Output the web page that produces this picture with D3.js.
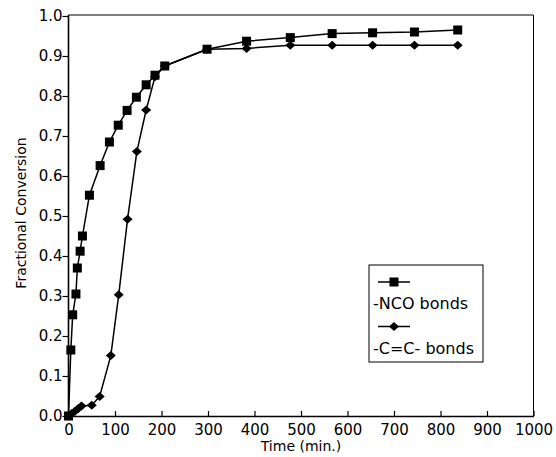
<!DOCTYPE html>
<html>
<head>
<meta charset="utf-8">
<script src="https://cdn.jsdelivr.net/npm/d3@7"></script>
<style>
  body { margin: 0; background: #fff; }
  svg text { font-family: "DejaVu Sans", sans-serif; fill: #000; }
</style>
</head>
<body>
<div class="holder"></div>
<script>
"use strict";

// values
const ncoTime = [0, 5, 9, 16, 19, 25, 30, 45, 68, 88, 107, 126, 146, 167, 186, 207, 298, 383, 477, 567, 654, 744, 837];
const ncoConv = [0, 0.165, 0.253, 0.305, 0.37, 0.412, 0.45, 0.552, 0.626, 0.685, 0.727, 0.764, 0.797, 0.828, 0.852, 0.875, 0.917, 0.937, 0.946, 0.956, 0.958, 0.96, 0.965];
const ccTime = [0, 7, 14, 21, 28, 50, 67, 91, 108, 127, 147, 167, 186, 207, 298, 383, 477, 567, 654, 744, 837];
const ccConv = [0, 0.006, 0.012, 0.019, 0.025, 0.027, 0.049, 0.151, 0.303, 0.492, 0.661, 0.765, 0.848, 0.875, 0.917, 0.919, 0.927, 0.927, 0.927, 0.927, 0.927];
const xTicks = d3.range(0, 1001, 100);
const yTicks = d3.range(0, 11).map((d) => d / 10);
const legendLabels = ["-NCO bonds", "-C=C- bonds"];

const w = 556;
const h = 457;
const svg = d3.select(".holder").append("svg").attr("width", w).attr("height", h);

const x = d3.scaleLinear().domain([0, 1000]).range([68.5, 533.5]);
const y = d3.scaleLinear().domain([0, 1]).range([416, 16]);

// frame (top and right)
svg.append("path")
  .attr("d", `M${x(0)},${y(1) - 1}H${x(1000)}V${y(0)}`)
  .attr("fill", "none").attr("stroke", "#000").attr("stroke-width", 1);

const xAxis = svg.append("g")
  .attr("transform", `translate(0,${y(0)})`)
  .call(d3.axisBottom(x).tickValues(xTicks).tickFormat(d3.format("d")).tickSizeInner(-5).tickSizeOuter(0).tickPadding(8));
const yAxis = svg.append("g")
  .attr("transform", `translate(${x(0)},0)`)
  .call(d3.axisLeft(y).tickValues(yTicks).tickFormat(d3.format(".1f")).tickSizeInner(6).tickSizeOuter(0).tickPadding(0));
[xAxis, yAxis].forEach((g) => {
  g.select(".domain").attr("stroke-width", 1.6);
  g.selectAll(".tick line").attr("stroke-width", 1.2);
  g.selectAll(".tick text").style("font-size", "15px").style("font-family", "DejaVu Sans").attr("fill", "#000");
});
yAxis.select(".domain").attr("d", `M0,${y(0)}V${y(1) - 1}`);

svg.append("text")
  .attr("x", 301).attr("y", 451)
  .attr("text-anchor", "middle")
  .style("font-size", "14px")
  .text("Time (min.)");
svg.append("text")
  .attr("transform", `translate(26,213) rotate(-90)`)
  .attr("text-anchor", "middle")
  .style("font-size", "14px")
  .text("Fractional Conversion");

const line = d3.line().x((d) => x(d[0])).y((d) => y(d[1]));
const ncoData = ncoTime.map((t, i) => [t, ncoConv[i]]);
const ccData = ccTime.map((t, i) => [t, ccConv[i]]);

const diamond = "M0,-4.5L5,0L0,4.5L-5,0Z";

const drawSeries = (data, square) => {
  svg.append("path")
    .datum(data)
    .attr("d", line)
    .attr("fill", "none")
    .attr("stroke", "#000")
    .attr("stroke-width", 1.5);
  if (square) {
    svg.selectAll(null)
      .data(data)
      .enter()
      .append("rect")
      .attr("x", (d) => x(d[0]) - 4.5)
      .attr("y", (d) => y(d[1]) - 4.5)
      .attr("width", 9)
      .attr("height", 9)
      .attr("fill", "#000");
  } else {
    svg.selectAll(null)
      .data(data)
      .enter()
      .append("path")
      .attr("d", diamond)
      .attr("transform", (d) => `translate(${x(d[0])},${y(d[1])})`)
      .attr("fill", "#000");
  }
};
drawSeries(ccData, false);
drawSeries(ncoData, true);

// legend
const legend = svg.append("g");
legend.append("rect")
  .attr("x", 369).attr("y", 265)
  .attr("width", 114).attr("height", 97)
  .attr("fill", "#fff").attr("stroke", "#000").attr("stroke-width", 1);
legendLabels.forEach((label, i) => {
  const ly = 282 + i * 44.5;
  legend.append("line")
    .attr("x1", 378).attr("x2", 410).attr("y1", ly).attr("y2", ly)
    .attr("stroke", "#000").attr("stroke-width", 1.5);
  if (i === 0) {
    legend.append("rect").attr("x", 389.5).attr("y", ly - 4.5).attr("width", 9).attr("height", 9).attr("fill", "#000");
  } else {
    legend.append("path").attr("d", diamond).attr("transform", `translate(394,${ly})`).attr("fill", "#000");
  }
  legend.append("text")
    .attr("x", 373).attr("y", ly + 27)
    .style("font-size", "16px")
    .text(label);
});
</script>
</body>
</html>
